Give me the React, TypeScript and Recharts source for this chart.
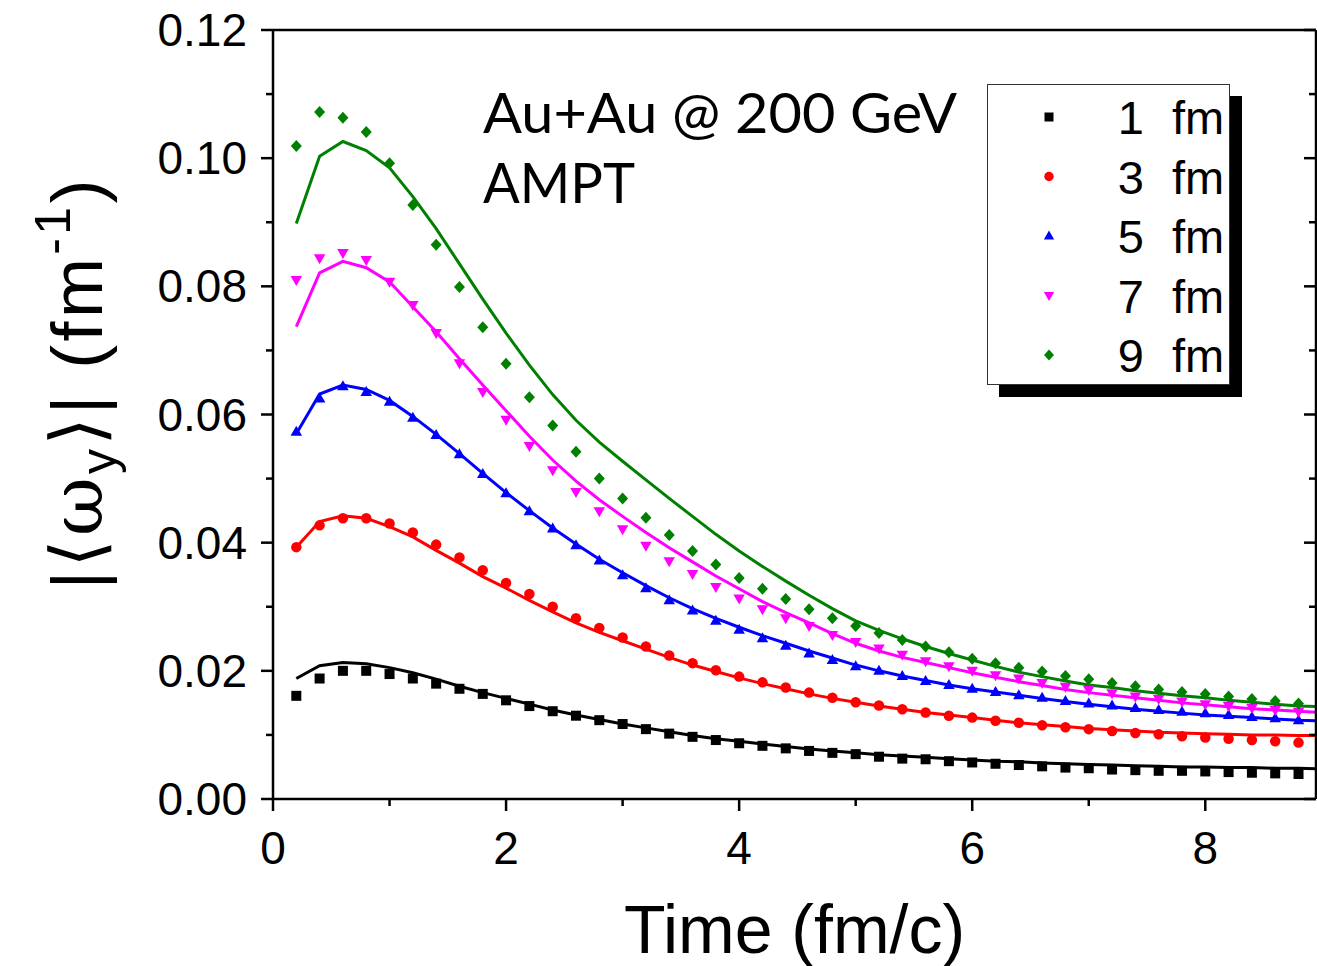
import React from 'react';
import { ComposedChart, Line, Scatter, XAxis, YAxis, Legend } from 'recharts';

// time grid (fm/c) of the AMPT points; the curves run one step further, to the frame edge
const T_MARK = [
  0.2, 0.4, 0.6, 0.8, 1.0, 1.2, 1.4, 1.6, 1.8, 2.0,
  2.2, 2.4, 2.6, 2.8, 3.0, 3.2, 3.4, 3.6, 3.8, 4.0,
  4.2, 4.4, 4.6, 4.8, 5.0, 5.2, 5.4, 5.6, 5.8, 6.0,
  6.2, 6.4, 6.6, 6.8, 7.0, 7.2, 7.4, 7.6, 7.8, 8.0,
  8.2, 8.4, 8.6, 8.8,
];
const T_CURVE = [...T_MARK, 9.0];

const B1_MARK = [
  0.0161, 0.0188, 0.0200, 0.0200, 0.0195, 0.0188, 0.0180, 0.0172, 0.0164, 0.0154,
  0.0145, 0.0137, 0.0130, 0.0123, 0.0117, 0.0109, 0.0102, 0.0097, 0.0092, 0.0087,
  0.0083, 0.0079, 0.0075, 0.0072, 0.0070, 0.0066, 0.0063, 0.0062, 0.0059, 0.0057,
  0.0055, 0.0053, 0.0051, 0.0049, 0.0048, 0.0046, 0.0045, 0.0044, 0.0044, 0.0043,
  0.0042, 0.0041, 0.0040, 0.0039,
];
const B1_CURVE = [
  0.0188, 0.0208, 0.0213, 0.0211, 0.0205, 0.0197, 0.0187, 0.0176, 0.0166, 0.0157,
  0.0148, 0.0139, 0.0131, 0.0124, 0.0117, 0.0111, 0.0105, 0.0099, 0.0094, 0.0090,
  0.0086, 0.0082, 0.0078, 0.0075, 0.0072, 0.0069, 0.0067, 0.0065, 0.0063, 0.0061,
  0.0059, 0.0058, 0.0056, 0.0055, 0.0054, 0.0053, 0.0052, 0.0051, 0.0050, 0.0050,
  0.0049, 0.0049, 0.0048, 0.0048, 0.0047,
];

const B3_MARK = [
  0.0393, 0.0427, 0.0438, 0.0438, 0.0430, 0.0416, 0.0397, 0.0377, 0.0357, 0.0337,
  0.0320, 0.0300, 0.0282, 0.0267, 0.0252, 0.0238, 0.0224, 0.0212, 0.0201, 0.0191,
  0.0182, 0.0174, 0.0166, 0.0158, 0.0151, 0.0146, 0.0140, 0.0135, 0.0130, 0.0127,
  0.0122, 0.0119, 0.0115, 0.0112, 0.0109, 0.0106, 0.0103, 0.0101, 0.0098, 0.0096,
  0.0094, 0.0092, 0.0090, 0.0088,
];
const B3_CURVE = [
  0.0393, 0.0433, 0.0442, 0.0438, 0.0425, 0.0409, 0.0388, 0.0368, 0.0347, 0.0329,
  0.0310, 0.0292, 0.0275, 0.0260, 0.0247, 0.0234, 0.0221, 0.0209, 0.0199, 0.0189,
  0.0180, 0.0172, 0.0164, 0.0157, 0.0151, 0.0145, 0.0140, 0.0135, 0.0131, 0.0127,
  0.0123, 0.0119, 0.0116, 0.0113, 0.0110, 0.0108, 0.0106, 0.0104, 0.0103, 0.0102,
  0.0101, 0.0100, 0.0100, 0.0099, 0.0099,
];

const B5_MARK = [
  0.0573, 0.0625, 0.0644, 0.0635, 0.0620, 0.0595, 0.0568, 0.0538, 0.0507, 0.0477,
  0.0449, 0.0422, 0.0396, 0.0372, 0.0349, 0.0329, 0.0310, 0.0294, 0.0278, 0.0264,
  0.0251, 0.0239, 0.0227, 0.0217, 0.0207, 0.0200, 0.0192, 0.0184, 0.0178, 0.0172,
  0.0167, 0.0162, 0.0158, 0.0153, 0.0149, 0.0146, 0.0142, 0.0139, 0.0136, 0.0134,
  0.0131, 0.0128, 0.0126, 0.0123,
];
const B5_CURVE = [
  0.0570, 0.0632, 0.0646, 0.0639, 0.0622, 0.0597, 0.0569, 0.0539, 0.0508, 0.0478,
  0.0450, 0.0423, 0.0398, 0.0374, 0.0353, 0.0333, 0.0314, 0.0297, 0.0282, 0.0268,
  0.0255, 0.0243, 0.0231, 0.0220, 0.0209, 0.0200, 0.0192, 0.0185, 0.0178, 0.0172,
  0.0167, 0.0162, 0.0157, 0.0152, 0.0148, 0.0144, 0.0140, 0.0137, 0.0134, 0.0131,
  0.0129, 0.0127, 0.0125, 0.0123, 0.0122,
];

const B7_MARK = [
  0.0810, 0.0844, 0.0852, 0.0841, 0.0807, 0.0771, 0.0727, 0.0680, 0.0635, 0.0592,
  0.0551, 0.0513, 0.0479, 0.0449, 0.0421, 0.0395, 0.0371, 0.0351, 0.0331, 0.0313,
  0.0296, 0.0282, 0.0270, 0.0256, 0.0245, 0.0235, 0.0225, 0.0215, 0.0207, 0.0200,
  0.0193, 0.0188, 0.0181, 0.0175, 0.0170, 0.0165, 0.0160, 0.0156, 0.0152, 0.0148,
  0.0145, 0.0142, 0.0139, 0.0136,
];
const B7_CURVE = [
  0.0737, 0.0821, 0.0839, 0.0829, 0.0807, 0.0768, 0.0729, 0.0687, 0.0646, 0.0606,
  0.0566, 0.0529, 0.0496, 0.0467, 0.0441, 0.0416, 0.0392, 0.0370, 0.0348, 0.0328,
  0.0308, 0.0291, 0.0275, 0.0258, 0.0243, 0.0231, 0.0221, 0.0213, 0.0205, 0.0197,
  0.0190, 0.0183, 0.0177, 0.0171, 0.0166, 0.0162, 0.0158, 0.0154, 0.0150, 0.0147,
  0.0144, 0.0141, 0.0139, 0.0137, 0.0135,
];

const B9_MARK = [
  0.1019, 0.1072, 0.1063, 0.1041, 0.0992, 0.0927, 0.0865, 0.0799, 0.0736, 0.0679,
  0.0627, 0.0583, 0.0542, 0.0500, 0.0469, 0.0439, 0.0412, 0.0387, 0.0366, 0.0345,
  0.0328, 0.0312, 0.0296, 0.0282, 0.0270, 0.0259, 0.0248, 0.0238, 0.0229, 0.0219,
  0.0212, 0.0205, 0.0199, 0.0192, 0.0187, 0.0181, 0.0176, 0.0171, 0.0167, 0.0164,
  0.0160, 0.0156, 0.0153, 0.0149,
];
const B9_CURVE = [
  0.0898, 0.1003, 0.1026, 0.1012, 0.0985, 0.0940, 0.0890, 0.0835, 0.0780, 0.0727,
  0.0677, 0.0631, 0.0591, 0.0557, 0.0527, 0.0498, 0.0469, 0.0441, 0.0413, 0.0387,
  0.0363, 0.0340, 0.0318, 0.0297, 0.0278, 0.0263, 0.0250, 0.0238, 0.0227, 0.0217,
  0.0207, 0.0198, 0.0191, 0.0184, 0.0178, 0.0174, 0.0169, 0.0165, 0.0161, 0.0158,
  0.0154, 0.0151, 0.0148, 0.0145, 0.0144,
];

const LABELS = ['1', '3', '5', '7', '9'];
const COLORS = ['#000000', '#ff0000', '#0000ff', '#ff00ff', '#008000'];
const SHAPES = ['square', 'circle', 'up', 'down', 'diamond'];
const MARKS = [B1_MARK, B3_MARK, B5_MARK, B7_MARK, B9_MARK];
const CURVES = [B1_CURVE, B3_CURVE, B5_CURVE, B7_CURVE, B9_CURVE];

const X_TICKS = [0, 1, 2, 3, 4, 5, 6, 7, 8];
const Y_TICKS = [0, 0.01, 0.02, 0.03, 0.04, 0.05, 0.06, 0.07, 0.08, 0.09, 0.1, 0.11, 0.12];
const X_DOMAIN = [0, 8.95];
const Y_DOMAIN = [0, 0.12];

const toPts = (ts: number[], vs: number[]) => ts.map((t, i) => ({ t, v: vs[i] }));

const SANS = '"Liberation Sans", Arial, sans-serif';
const AXIS = { stroke: '#000', strokeWidth: 2.5 };
const MAJOR = 12;
const MINOR = 7;

const Marker = ({ kind, cx, cy, color, s }: any) => {
  if (cx == null || cy == null) return null;
  switch (kind) {
    case 'square':
      return <rect x={cx - s} y={cy - s} width={2 * s} height={2 * s} fill={color} />;
    case 'circle':
      return <circle cx={cx} cy={cy} r={s * 1.05} fill={color} />;
    case 'up':
      return <polygon points={`${cx},${cy - s * 1.2} ${cx - s * 1.15},${cy + s * 0.8} ${cx + s * 1.15},${cy + s * 0.8}`} fill={color} />;
    case 'down':
      return <polygon points={`${cx},${cy + s * 1.2} ${cx - s * 1.15},${cy - s * 0.8} ${cx + s * 1.15},${cy - s * 0.8}`} fill={color} />;
    default:
      return <polygon points={`${cx},${cy - s * 1.2} ${cx + s * 1.1},${cy} ${cx},${cy + s * 1.2} ${cx - s * 1.1},${cy}`} fill={color} />;
  }
};

const isMajorX = (v: number) => Math.round(v) % 2 === 0;
const isMajorY = (v: number) => Math.round(v * 100) % 2 === 0;

const BottomTick = (p: any) => {
  const v = p.payload.value;
  const major = isMajorX(v);
  return (
    <g>
      <line x1={p.x} y1={p.y} x2={p.x} y2={p.y + (major ? MAJOR : MINOR)} stroke="#000" strokeWidth={2.5} />
      {major && (
        <text x={p.x} y={p.y + 65} textAnchor="middle" fontFamily={SANS} fontSize={46} fill="#000">
          {v}
        </text>
      )}
    </g>
  );
};

const TopTick = (p: any) => {
  const major = isMajorX(p.payload.value);
  return <line x1={p.x} y1={p.y} x2={p.x} y2={p.y + (major ? MAJOR : MINOR)} stroke="#000" strokeWidth={2.5} />;
};

const LeftTick = (p: any) => {
  const v = p.payload.value;
  const major = isMajorY(v);
  return (
    <g>
      <line x1={p.x - (major ? MAJOR : MINOR)} y1={p.y} x2={p.x} y2={p.y} stroke="#000" strokeWidth={2.5} />
      {major && (
        <text x={p.x - 26} y={p.y + 16} textAnchor="end" fontFamily={SANS} fontSize={46} fill="#000">
          {v.toFixed(2)}
        </text>
      )}
    </g>
  );
};

const RightTick = (p: any) => {
  const major = isMajorY(p.payload.value);
  return <line x1={p.x - (major ? MAJOR : MINOR)} y1={p.y} x2={p.x} y2={p.y} stroke="#000" strokeWidth={2.5} />;
};

const XTitle = ({ viewBox }: any) => (
  <text x={viewBox.x + viewBox.width / 2} y={viewBox.y + 154} textAnchor="middle" fontFamily={SANS} fontSize={68} fill="#000">
    Time (fm/c)
  </text>
);

const YTitle = ({ viewBox }: any) => {
  const cy = viewBox.y + viewBox.height / 2 - 30;
  return (
    <text
      transform={`translate(102,${cy}) rotate(-90)`}
      textAnchor="middle"
      fontFamily={`${SANS}, "DejaVu Sans"`}
      fontSize={72}
      textLength={410}
      lengthAdjust="spacing"
      fill="#000"
    >
      <tspan>|⟨</tspan>
      <tspan fontFamily='"DejaVu Serif", serif'>ω</tspan>
      <tspan fontSize={50} dy={14}>y</tspan>
      <tspan dy={-14}>⟩| (fm</tspan>
      <tspan fontSize={50} dy={-32}>-1</tspan>
      <tspan dy={32}>)</tspan>
    </text>
  );
};

const LegendBox = () => (
  <div
    style={{
      width: 243,
      height: 301,
      boxSizing: 'border-box',
      border: '1.5px solid #333',
      background: '#fff',
      boxShadow: '12px 12px 0 #000',
    }}
  >
    <svg width={240} height={298} style={{ display: 'block' }}>
      {LABELS.map((lab, i) => {
        const cy = 32 + i * 59.5;
        return (
          <g key={lab}>
            <Marker kind={SHAPES[i]} cx={61} cy={cy} color={COLORS[i]} s={4.5} />
            <text x={156} y={cy + 17} textAnchor="end" fontFamily={SANS} fontSize={47} fill="#000">
              {lab}
            </text>
            <text x={184} y={cy + 17} fontFamily={SANS} fontSize={47} fill="#000">
              fm
            </text>
          </g>
        );
      })}
    </svg>
  </div>
);

export default function App() {
  return (
    <div style={{ position: 'absolute', left: 0, top: 0, width: 1317, height: 966, overflow: 'hidden', background: '#fff' }}>
      <ComposedChart width={1317} height={966} margin={{ top: 30, right: 1, bottom: 0, left: 0 }}>
        <XAxis
          type="number"
          dataKey="t"
          domain={X_DOMAIN}
          allowDataOverflow
          ticks={X_TICKS}
          interval={0}
          height={167}
          tickSize={0}
          tickMargin={0}
          tickLine={false}
          tick={BottomTick}
          axisLine={AXIS}
          label={{ content: XTitle }}
        />
        <XAxis
          xAxisId="top"
          orientation="top"
          mirror
          type="number"
          domain={X_DOMAIN}
          allowDataOverflow
          ticks={X_TICKS}
          interval={0}
          height={10}
          tickSize={0}
          tickMargin={0}
          tickLine={false}
          tick={TopTick}
          axisLine={AXIS}
        />
        <YAxis
          type="number"
          dataKey="v"
          domain={Y_DOMAIN}
          allowDataOverflow
          ticks={Y_TICKS}
          interval={0}
          width={273}
          tickSize={0}
          tickMargin={0}
          tickLine={false}
          tick={LeftTick}
          axisLine={AXIS}
          label={{ content: YTitle }}
        />
        <YAxis
          yAxisId="right"
          orientation="right"
          mirror
          type="number"
          domain={Y_DOMAIN}
          allowDataOverflow
          ticks={Y_TICKS}
          interval={0}
          width={10}
          tickSize={0}
          tickMargin={0}
          tickLine={false}
          tick={RightTick}
          axisLine={AXIS}
        />
        <Legend
          layout="vertical"
          align="center"
          verticalAlign="middle"
          wrapperStyle={{ left: 987, top: 84, width: 243, height: 301 }}
          content={() => <LegendBox />}
        />
        {MARKS.map((vals, i) => (
          <Scatter
            key={`m${i}`}
            name={`${LABELS[i]} fm`}
            data={toPts(T_MARK, vals)}
            dataKey="v"
            isAnimationActive={false}
            shape={(p: any) => <Marker kind={SHAPES[i]} cx={p.cx} cy={p.cy} color={COLORS[i]} s={5} />}
          />
        ))}
        {CURVES.map((vals, i) => (
          <Line
            key={`c${i}`}
            data={toPts(T_CURVE, vals)}
            dataKey="v"
            type="linear"
            stroke={COLORS[i]}
            strokeWidth={3}
            dot={false}
            activeDot={false}
            legendType="none"
            isAnimationActive={false}
          />
        ))}
      </ComposedChart>
      <svg width={1317} height={966} style={{ position: 'absolute', left: 0, top: 0, pointerEvents: 'none' }}>
        <text x={483} y={133} fontFamily='Lato, "Open Sans", sans-serif' fontSize={56} textLength={474} lengthAdjust="spacingAndGlyphs" fill="#000">
          Au+Au @ 200 GeV
        </text>
        <text x={483} y={203} fontFamily='Lato, "Open Sans", sans-serif' fontSize={56} textLength={152} lengthAdjust="spacingAndGlyphs" fill="#000">
          AMPT
        </text>
      </svg>
    </div>
  );
}
